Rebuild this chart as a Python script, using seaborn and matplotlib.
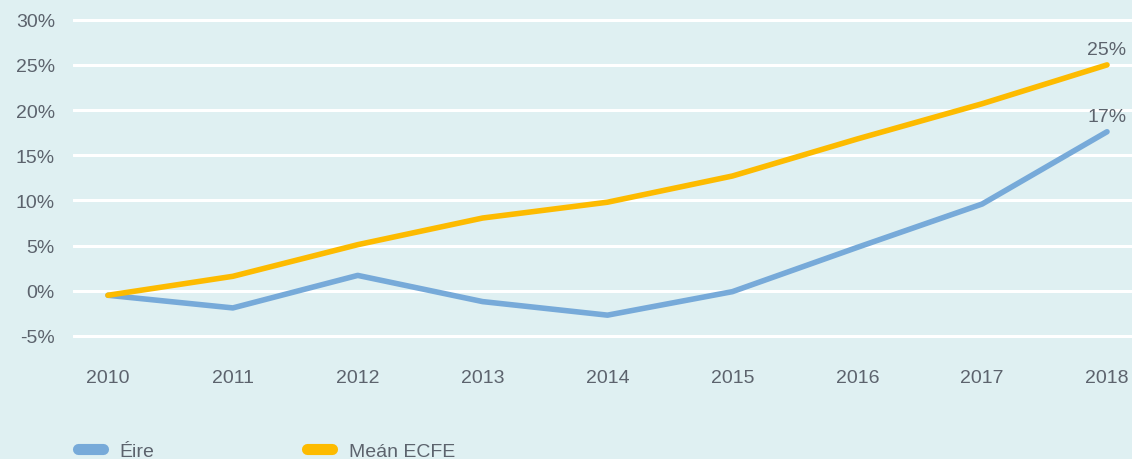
import pandas as pd
import matplotlib.pyplot as plt
import seaborn as sns

years = [2010, 2011, 2012, 2013, 2014, 2015, 2016, 2017, 2018]
eire = [-0.5, -1.9, 1.7, -1.2, -2.7, -0.1, 4.8, 9.6, 17.6]
mean_ecfe = [-0.5, 1.6, 5.1, 8.05, 9.8, 12.7, 16.8, 20.7, 25.0]
series_names = ["Éire", "Meán ECFE"]
end_labels = ["17%", "25%"]

bg = "#dff0f2"
txt = "#5c636d"
colors = ["#77aad9", "#fdbb00"]

df = pd.DataFrame({
    "Bliain": years * 2,
    "Luach": eire + mean_ecfe,
    "Sraith": [series_names[0]] * len(years) + [series_names[1]] * len(years),
})

sns.set_style("white")
plt.rcParams["font.family"] = ["Liberation Sans", "DejaVu Sans"]
fs = 14

fig = plt.figure(figsize=(11.32, 4.6), dpi=100, facecolor=bg)
ax = fig.add_axes([73 / 1132, 1 - 355 / 460, 1 - 73 / 1132, (355 - 18) / 460])
ax.set_facecolor(bg)

sns.lineplot(data=df, x="Bliain", y="Luach", hue="Sraith", hue_order=series_names,
             palette=colors, linewidth=4.0, ax=ax, legend=False,
             solid_capstyle="round")

ax.set_xlim(2009.72, 2018.2)
ax.set_ylim(-7, 30.3)
ax.set_yticks(range(-5, 31, 5))
ax.set_yticklabels([f"{v}%" for v in range(-5, 31, 5)])
ax.set_xticks(years)
ax.set_xticklabels([str(y) for y in years])
ax.set_xlabel("")
ax.set_ylabel("")
ax.grid(axis="y", color="white", linewidth=2.2)
ax.set_axisbelow(True)
for s in ax.spines.values():
    s.set_visible(False)
ax.tick_params(axis="both", length=0, labelsize=fs, colors=txt)
ax.tick_params(axis="y", pad=13)
ax.tick_params(axis="x", pad=11)

ax.annotate(end_labels[0], (years[-1], eire[-1]), xytext=(0, 5), textcoords="offset points",
            ha="center", va="bottom", fontsize=fs, color=txt)
ax.annotate(end_labels[1], (years[-1], mean_ecfe[-1]), xytext=(0, 5), textcoords="offset points",
            ha="center", va="bottom", fontsize=fs, color=txt)

handles = [plt.Line2D([], [], color=c, linewidth=8, solid_capstyle="round") for c in colors]
leg = fig.legend(handles, series_names, loc="center left", bbox_to_anchor=(60 / 1132, 1 - 452 / 460),
                 ncol=2, frameon=False, fontsize=fs, handlelength=1.3, handletextpad=0.85,
                 columnspacing=7.85, labelcolor=txt)

plt.savefig("out.png", dpi=100, facecolor=bg)
